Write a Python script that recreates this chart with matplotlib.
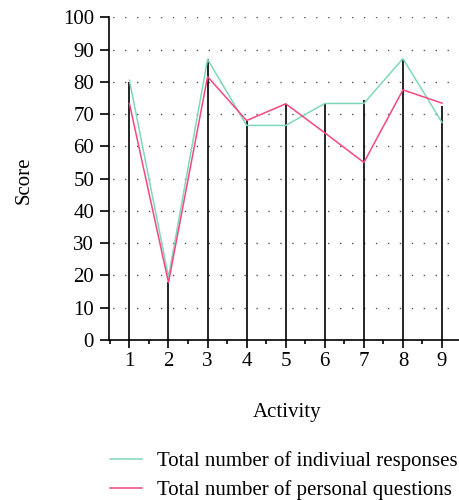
import numpy as np
import matplotlib
matplotlib.use("Agg")
import matplotlib.pyplot as plt
from matplotlib.ticker import MultipleLocator

activities = [1, 2, 3, 4, 5, 6, 7, 8, 9]
stem_scores = [80, 18, 87, 68, 73, 73, 74.5, 87, 72.5]
individual_responses = [80.5, 19.5, 87, 66.5, 66.5, 73.3, 73.3, 87.2, 67.4]
personal_questions = [73.3, 17.8, 81.6, 68, 73.2, 64.2, 55, 77.5, 73.4]

series_labels = ["Total number of indiviual responses", "Total number of personal questions"]
green = "#7fd9b8"
pink = "#f5487c"

plt.rcParams['font.family'] = ['Liberation Serif', 'DejaVu Serif']
plt.rcParams['font.size'] = 15

fig = plt.figure(figsize=(4.6, 5.0), dpi=100)
ax = fig.add_axes([108.7 / 460, 160 / 500, 1 - 108.7 / 460, (340 - 17.3) / 500])

ax.vlines(activities, 0, stem_scores, color="black", lw=1.2, zorder=2)
l1, = ax.plot(activities, individual_responses, color=green, lw=1.1, zorder=3)
l2, = ax.plot(activities, personal_questions, color=pink, lw=1.1, zorder=3)

ax.set_xlim(0.47, 9.46)
ax.set_ylim(0, 100)
ax.set_xticks(activities)
ax.xaxis.set_minor_locator(MultipleLocator(0.5))
ax.set_yticks(np.arange(0, 101, 10))

ax.spines['top'].set_visible(False)
ax.spines['right'].set_visible(False)
ax.spines['left'].set_linewidth(1.2)
ax.spines['bottom'].set_linewidth(1.2)
ax.tick_params(axis='x', which='major', direction='out', length=6, width=1.2, pad=3)
ax.tick_params(axis='x', which='minor', direction='out', length=3, width=1.2)
ax.tick_params(axis='y', which='major', direction='out', length=6.5, width=1.2, pad=4)

ax.yaxis.grid(True, color="#555555", lw=1.0, linestyle=(6, (1.0, 7.6)))
ax.set_axisbelow(True)

fig.text(24 / 460, 1 - 180 / 500, "Score", rotation=90, ha="center", va="center")
fig.text(287 / 460, 1 - 413 / 500, "Activity", ha="center", va="center")

fig.legend([l1, l2], series_labels, loc="upper left",
           bbox_to_anchor=(110 / 460, 1 - 451 / 500), frameon=False,
           borderpad=0, borderaxespad=0, handlelength=1.55, handletextpad=0.7,
           labelspacing=0.45)

fig.savefig("out.png", dpi=100)
